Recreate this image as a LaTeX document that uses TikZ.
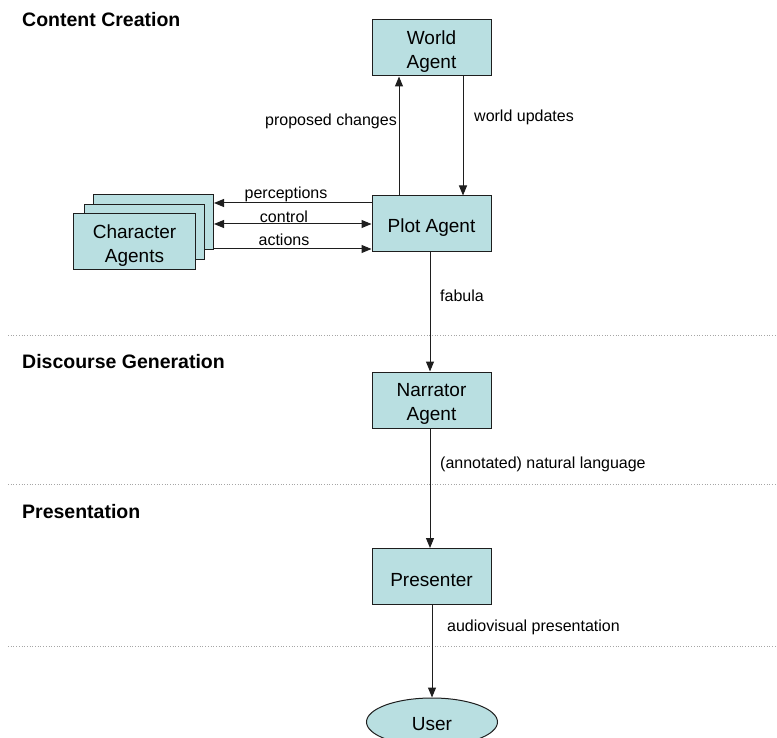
\documentclass[tikz,border=0pt]{standalone}
\usepackage{fontspec}
\setmainfont{Liberation Sans}
\usetikzlibrary{arrows.meta,shapes.geometric}
\definecolor{boxfill}{RGB}{185,223,225}
\definecolor{edgegray}{RGB}{30,30,30}
\begin{document}
\begin{tikzpicture}[x=1pt,y=-1pt,
  agentbox/.style={draw=edgegray,line width=1pt,fill=boxfill,minimum width=119pt,minimum height=56pt,inner sep=0pt},
  boxtext/.style={align=center,font=\fontsize{19}{24}\selectfont,inner sep=0pt,yshift=-3.5pt},
  userell/.style={ellipse,draw=edgegray,line width=1pt,fill=boxfill,minimum width=131pt,minimum height=48pt,
    font=\fontsize{19}{24}\selectfont,inner sep=0pt},
  flow/.style={draw=edgegray,line width=1pt,-{Triangle[length=10pt,width=8pt]}},
  twoway/.style={draw=edgegray,line width=1pt,{Triangle[length=10pt,width=8pt]}-{Triangle[length=10pt,width=8pt]}},
  lbl/.style={font=\fontsize{16}{19}\selectfont,inner sep=0pt},
  heading/.style={font=\fontsize{19.5}{22}\selectfont\bfseries,anchor=west,inner sep=0pt},
  divider/.style={draw=gray!70,line width=0.7pt,dotted}]
\useasboundingbox (0,0) rectangle (777,738);

% section headings and dividers
\node[heading] (h1) at (22,20) {Content Creation};
\node[heading] (h2) at (22,362) {Discourse Generation};
\node[heading] (h3) at (22,512) {Presentation};
\draw[divider] (8,335) -- (777,335);
\draw[divider] (8,484) -- (777,484);
\draw[divider] (8,646) -- (777,646);

% agents
\node[agentbox] (world) at (431.5,48) {};
\node[boxtext] (worldtxt) at (world) {World\\Agent};
\node[agentbox] (plot) at (431.5,224) {};
\node[boxtext] (plottxt) at (plot) {Plot Agent};
\node[agentbox] (narrator) at (431.5,400) {};
\node[boxtext] (narratortxt) at (narrator) {Narrator\\Agent};
\node[agentbox] (presenter) at (431.5,576.5) {};
\node[boxtext] (presentertxt) at (presenter) {Presenter};
\node[userell] (user) at (432,722) {};
\node[boxtext,yshift=1.5pt] (usertxt) at (user) {User};

% stacked character agents
\node[agentbox,minimum width=120pt,minimum height=55pt] (charsb) at (153.5,222.5) {};
\node[agentbox,minimum width=120pt,minimum height=55pt] (charsm) at (144,232) {};
\node[agentbox,minimum width=122pt,minimum height=56pt] (chars) at (134.5,242) {};
\node[boxtext] (charstxt) at (chars) {Character\\Agents};

% helper coordinates for parallel connectors
\coordinate (xup) at (399,0);
\coordinate (xdown) at (463,0);
\coordinate (xmid) at (430,0);
\coordinate (xlast) at (432,0);
\coordinate (yperc) at (0,203);
\coordinate (yctrl) at (0,224);
\coordinate (yact) at (0,249);

% world <-> plot
\draw[flow] (plot.north -| xup) -- (world.south -| xup);
\draw[flow] (world.south -| xdown) -- (plot.north -| xdown);
\node[lbl,anchor=east] (lpc) at (397,121) {proposed changes};
\node[lbl,anchor=west] (lwu) at (474,117) {world updates};

% plot <-> characters
\draw[flow] (plot.west |- yperc) -- (charsb.east |- yperc);
\draw[twoway] (charsb.east |- yctrl) -- (plot.west |- yctrl);
\draw[flow] (charsb.east |- yact) -- (plot.west |- yact);
\node[lbl] (lperc) at (286,194) {perceptions};
\node[lbl] (lctrl) at (284,217) {control};
\node[lbl] (lact) at (284,240) {actions};

% pipeline
\draw[flow] (plot.south -| xmid) -- (narrator.north -| xmid);
\node[lbl,anchor=west] (lfab) at (440,296) {fabula};
\draw[flow] (narrator.south -| xmid) -- (presenter.north -| xmid);
\node[lbl,anchor=west] (lnl) at (440,464) {(annotated) natural language};
\draw[flow] (presenter.south -| xlast) -- (user.north);
\node[lbl,anchor=west] (lav) at (447,627) {audiovisual presentation};
\end{tikzpicture}
\end{document}
